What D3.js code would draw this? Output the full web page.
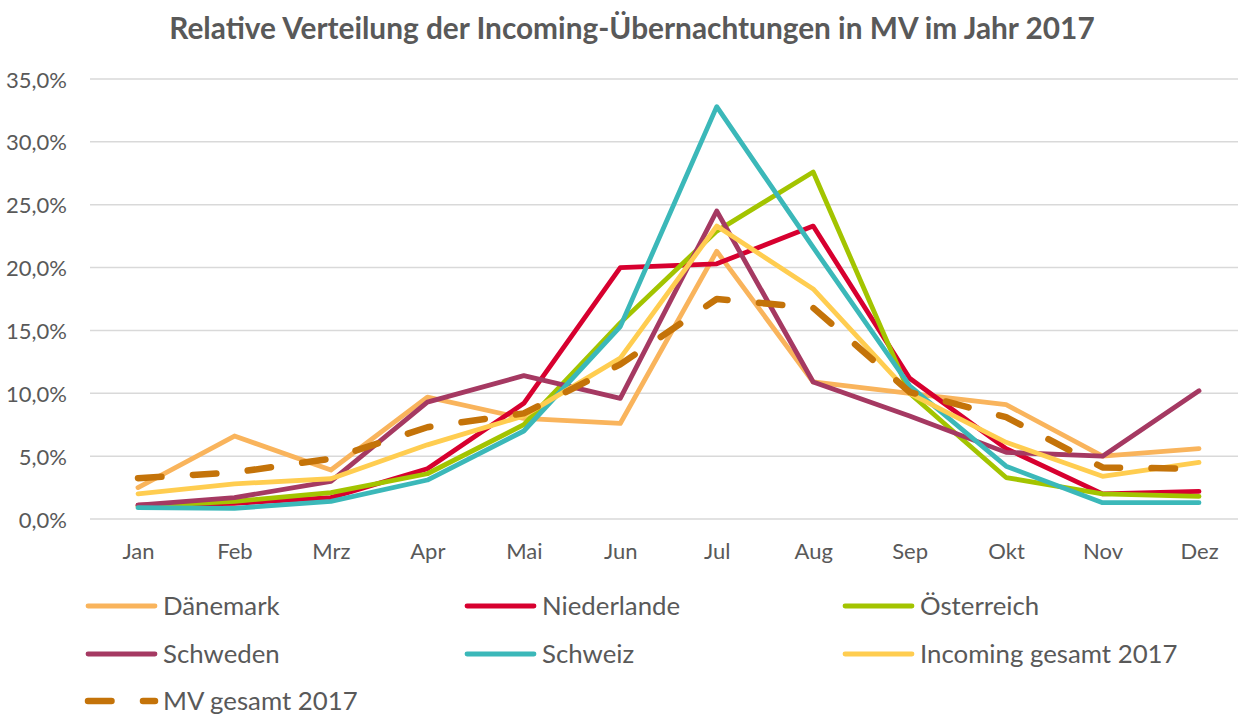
<!DOCTYPE html>
<html>
<head>
<meta charset="utf-8">
<script src="https://cdn.jsdelivr.net/npm/d3@7"></script>
<style>
  body { margin: 0; background: #fff; }
  text { font-family: Lato, "Open Sans", sans-serif; fill: #595959; }
</style>
</head>
<body>
<div id="chart"></div>
<script>
const months = ["Jan", "Feb", "Mrz", "Apr", "Mai", "Jun", "Jul", "Aug", "Sep", "Okt", "Nov", "Dez"];
const yTicks = [0, 5, 10, 15, 20, 25, 30, 35];

const daenemark   = [2.5, 6.6, 3.9, 9.7, 8.0, 7.6, 21.3, 10.9, 10.0, 9.1, 5.0, 5.6];
const niederlande = [1.1, 1.25, 1.7, 4.0, 9.2, 20.0, 20.3, 23.3, 11.2, 5.6, 2.0, 2.2];
const oesterreich = [1.0, 1.4, 2.1, 3.6, 7.5, 15.6, 22.9, 27.6, 10.0, 3.3, 2.0, 1.8];
const schweden    = [1.1, 1.7, 3.0, 9.3, 11.4, 9.6, 24.5, 10.9, 8.2, 5.3, 5.0, 10.2];
const schweiz     = [0.9, 0.85, 1.4, 3.1, 7.0, 15.3, 32.8, 21.6, 10.6, 4.2, 1.3, 1.3];
const incoming    = [2.0, 2.8, 3.2, 5.9, 8.2, 12.8, 23.3, 18.3, 10.0, 6.1, 3.4, 4.5];
const mvGesamt    = [3.25, 3.7, 4.8, 7.3, 8.4, 12.3, 17.5, 16.8, 10.1, 8.1, 4.1, 4.0];

const series = [
  { name: "Dänemark", values: daenemark, color: "#F9B45C" },
  { name: "Niederlande", values: niederlande, color: "#D7002F" },
  { name: "Österreich", values: oesterreich, color: "#A3C400" },
  { name: "Schweden", values: schweden, color: "#A53962" },
  { name: "Schweiz", values: schweiz, color: "#3BB8B9" },
  { name: "Incoming gesamt 2017", values: incoming, color: "#FFCD50" },
  { name: "MV gesamt 2017", values: mvGesamt, color: "#C47309", dashed: true }
];

const W = 1238, H = 717;
const svg = d3.select("#chart").append("svg")
  .attr("width", W)
  .attr("height", H);

const x = d3.scalePoint().domain(months).range([138, 1199]);
const y = d3.scaleLinear().domain([0, 35]).range([519, 79]);

// title
svg.append("text")
  .attr("x", 632)
  .attr("y", 39)
  .attr("text-anchor", "middle")
  .style("font-size", "29.8px")
  .style("font-weight", "bold")
  .text("Relative Verteilung der Incoming-Übernachtungen in MV im Jahr 2017");

// gridlines
svg.append("g")
  .selectAll("line")
  .data(yTicks)
  .join("line")
  .attr("x1", 90)
  .attr("x2", W)
  .attr("y1", d => y(d))
  .attr("y2", d => y(d))
  .attr("stroke", "#D9D9D9")
  .attr("stroke-width", 1.5);

// y axis labels
const yAxis = d3.axisLeft(y)
  .tickValues(yTicks)
  .tickSize(0)
  .tickPadding(0)
  .tickFormat(d => d3.format(".1f")(d).replace(".", ",") + "%");
svg.append("g")
  .attr("transform", "translate(67,1)")
  .call(yAxis)
  .call(g => g.select(".domain").remove())
  .selectAll("text")
  .style("font-size", "22px")
  .style("font-family", "Lato, sans-serif")
  .attr("fill", "#595959");

// x axis labels
const xAxis = d3.axisBottom(x).tickSize(0).tickPadding(0);
svg.append("g")
  .attr("transform", "translate(0,543)")
  .call(xAxis)
  .call(g => g.select(".domain").remove())
  .selectAll("text")
  .style("font-size", "22px")
  .style("font-family", "Lato, sans-serif")
  .attr("fill", "#595959");

// lines
const line = d3.line()
  .x((d, i) => x(months[i]))
  .y(d => y(d));

svg.append("g")
  .selectAll("path")
  .data(series)
  .join("path")
  .attr("d", d => line(d.values))
  .attr("fill", "none")
  .attr("stroke", d => d.color)
  .attr("stroke-width", d => d.dashed ? 6.5 : 4.8)
  .attr("stroke-linejoin", "round")
  .attr("stroke-linecap", "round")
  .attr("stroke-dasharray", d => d.dashed ? "23.5,31.5" : null);

// legend
const legendCols = [88, 467, 845];
const legendRows = [606, 654, 701];
const legend = svg.append("g")
  .selectAll("g")
  .data(series)
  .join("g")
  .attr("transform", (d, i) => `translate(${legendCols[i % 3]},${legendRows[Math.floor(i / 3)]})`);

legend.append("line")
  .attr("x1", 0)
  .attr("x2", 67)
  .attr("stroke", d => d.color)
  .attr("stroke-width", d => d.dashed ? 6.5 : 4.8)
  .attr("stroke-linecap", "round")
  .attr("stroke-dasharray", d => d.dashed ? "23.5,31.5" : null);

legend.append("text")
  .attr("x", 75)
  .attr("dy", "0.35em")
  .style("font-size", "25.8px")
  .text(d => d.name);
</script>
</body>
</html>
